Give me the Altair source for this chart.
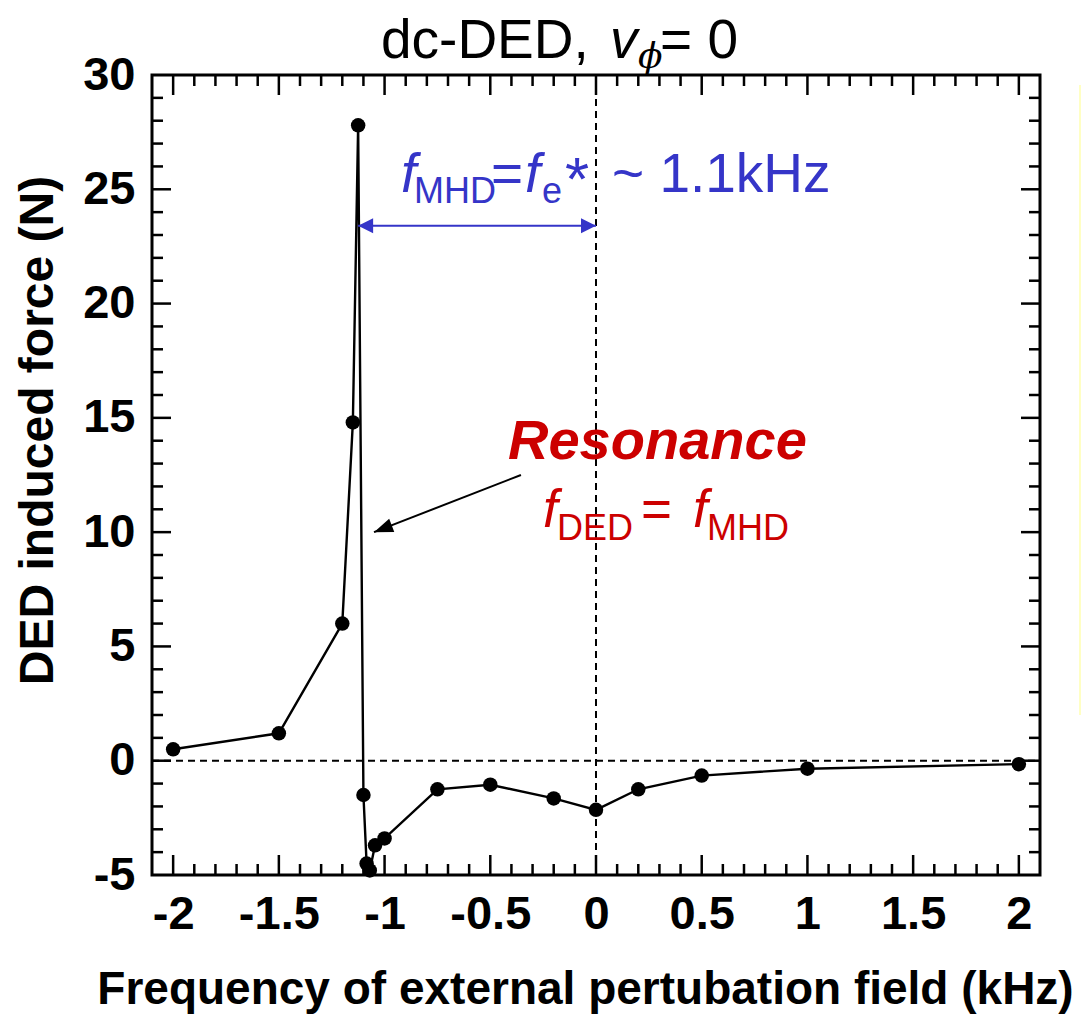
import altair as alt
import numpy as np
import pandas as pd

# DED induced force (N) against the frequency of the external perturbation field (kHz)
freq_khz = [-2.0, -1.5, -1.2, -1.15, -1.125, -1.1, -1.085, -1.07, -1.045, -1.0,
            -0.75, -0.5, -0.2, 0.0, 0.2, 0.5, 1.0, 2.0]
force_n = [0.5, 1.2, 6.0, 14.8, 27.8, -1.5, -4.5, -4.8, -3.7, -3.4,
           -1.25, -1.05, -1.65, -2.15, -1.25, -0.65, -0.35, -0.15]

x_labels = [-2, -1.5, -1, -0.5, 0, 0.5, 1, 1.5, 2]
y_labels = [-5, 0, 5, 10, 15, 20, 25, 30]

# f_MHD marker span and resonance pointer (data coordinates)
f_mhd = -1.125
span_y = 23.4
pointer_from = (-0.355, 12.5)
pointer_to = (-1.05, 10.0)

W, H = 888, 800
L, T = 152, 75
X_DOM = [-2.1, 2.1]
Y_DOM = [-5, 30]

BLUE = "#3535c8"
RED = "#cc0000"
SANS = "Liberation Sans"

xs = alt.Scale(domain=X_DOM, nice=False, zero=False)
ys = alt.Scale(domain=Y_DOM, nice=False, zero=False)

df = pd.DataFrame({"f": freq_khz, "F": force_n, "i": range(len(freq_khz))})

x_enc = alt.X(
    "f:Q", scale=xs,
    axis=alt.Axis(
        values=x_labels, labelExpr="datum.value + ''", grid=False, ticks=False,
        domain=False, labelFont=SANS, labelFontWeight="bold", labelFontSize=47,
        labelColor="black", labelBaseline="alphabetic", labelPadding=53,
        labelFlush=False, labelOverlap=False,
        title="Frequency of external pertubation field (kHz)",
        titleFont=SANS, titleFontWeight="bold",
        titleFontSize=46, titleColor="black", titleX=433, titleY=128,
        titleAlign="center", titleBaseline="alphabetic",
    ),
)
y_enc = alt.Y(
    "F:Q", scale=ys,
    axis=alt.Axis(
        values=y_labels, labelExpr="datum.value + ''", grid=False, ticks=False,
        domain=False, labelFont=SANS, labelFontWeight="bold", labelFontSize=47,
        labelColor="black", labelBaseline="middle", labelPadding=17,
        labelFlush=False, labelOverlap=False,
        title="DED induced force (N)", titleFont=SANS, titleFontWeight="bold",
        titleFontSize=48, titleColor="black", titleX=-100, titleY=355,
        titleAngle=270, titleAlign="center", titleBaseline="alphabetic",
    ),
)

line = alt.Chart(df).mark_line(color="black", strokeWidth=2.4).encode(
    x=x_enc, y=y_enc, order="i:Q")
dots = alt.Chart(df).mark_circle(size=210, color="black", opacity=1).encode(
    x=alt.X("f:Q", scale=xs), y=alt.Y("F:Q", scale=ys))

one = pd.DataFrame({"v": [0]})
zero_h = alt.Chart(one).mark_rule(color="black", strokeWidth=2, strokeDash=[7, 5]).encode(
    y=alt.Y("v:Q", scale=ys), x=alt.value(0), x2=alt.value(W))
zero_v = alt.Chart(one).mark_rule(color="black", strokeWidth=2, strokeDash=[7, 5]).encode(
    x=alt.X("v:Q", scale=xs), y=alt.value(0), y2=alt.value(H))

# Plot frame
frame = alt.Chart(one).mark_rect(fillOpacity=0, stroke="black", strokeWidth=3).encode(
    x=alt.value(0), x2=alt.value(W), y=alt.value(0), y2=alt.value(H))


# Inward-pointing ticks on all four sides of the frame
def x_ticks(vals, length):
    d = pd.DataFrame({"t": vals})
    bottom = alt.Chart(d).mark_rule(color="black", strokeWidth=2.5).encode(
        x=alt.X("t:Q", scale=xs), y=alt.value(H), y2=alt.value(H - length))
    top = alt.Chart(d).mark_rule(color="black", strokeWidth=2.5).encode(
        x=alt.X("t:Q", scale=xs), y=alt.value(0), y2=alt.value(length))
    return [bottom, top]


def y_ticks(vals, length):
    d = pd.DataFrame({"t": vals})
    left = alt.Chart(d).mark_rule(color="black", strokeWidth=2.5).encode(
        y=alt.Y("t:Q", scale=ys), x=alt.value(0), x2=alt.value(length))
    right = alt.Chart(d).mark_rule(color="black", strokeWidth=2.5).encode(
        y=alt.Y("t:Q", scale=ys), x=alt.value(W), x2=alt.value(W - length))
    return [left, right]


x_minor_vals = [v for v in np.round(np.arange(-2.0, 2.001, 0.1), 2) if abs(v * 2 - round(v * 2)) > 1e-6]
x_major_vals = [v for v in x_labels]
y_minor_vals = [v for v in range(-4, 30) if v % 5 != 0]
y_major_vals = [v for v in y_labels if Y_DOM[0] < v < Y_DOM[1]]

tick_layers = (x_ticks(x_minor_vals, 11) + x_ticks(x_major_vals, 20)
               + y_ticks(y_minor_vals, 11) + y_ticks(y_major_vals, 19))

# f_MHD span: double-headed blue arrow from the resonance to zero frequency
span = pd.DataFrame({"a": [f_mhd], "b": [0.0], "y": [span_y]})
span_rule = alt.Chart(span).mark_rule(color=BLUE, strokeWidth=2).encode(
    x=alt.X("a:Q", scale=xs), x2="b:Q", y=alt.Y("y:Q", scale=ys))
head_left = alt.Chart(span).mark_point(
    shape="M0,0L2,-1L2,1Z", size=225, filled=True, color=BLUE, opacity=1, strokeWidth=0
).encode(x=alt.X("a:Q", scale=xs), y=alt.Y("y:Q", scale=ys))
head_right = alt.Chart(span).mark_point(
    shape="M0,0L-2,-1L-2,1Z", size=225, filled=True, color=BLUE, opacity=1, strokeWidth=0
).encode(x=alt.X("b:Q", scale=xs), y=alt.Y("y:Q", scale=ys))

# Resonance pointer
ptr = pd.DataFrame({"x1": [pointer_from[0]], "y1": [pointer_from[1]],
                    "x2": [pointer_to[0]], "y2": [pointer_to[1]]})
ptr_rule = alt.Chart(ptr).mark_rule(color="black", strokeWidth=2).encode(
    x=alt.X("x1:Q", scale=xs), y=alt.Y("y1:Q", scale=ys), x2="x2:Q", y2="y2:Q")
ptr_head = alt.Chart(ptr).mark_point(
    shape="M0,0L2,-0.75L2,0.75Z", size=361, filled=True, color="black", opacity=1,
    strokeWidth=0, angle=339
).encode(x=alt.X("x2:Q", scale=xs), y=alt.Y("y2:Q", scale=ys))


def txt(s, x, y, size, color="black", style="normal", weight="normal", font=SANS):
    return alt.Chart(pd.DataFrame({"t": [s]})).mark_text(
        align="left", baseline="alphabetic", font=font, fontSize=size,
        fontStyle=style, fontWeight=weight, color=color
    ).encode(x=alt.value(x - L), y=alt.value(y - T), text="t:N")


texts = [
    # title: dc-DED, v_phi = 0
    txt("dc-DED,", 381, 58, 55),
    txt("v", 610, 58, 55, style="italic"),
    txt("\u03d5", 638, 68, 36, style="italic", font="DejaVu Serif"),
    txt("= 0", 660, 58, 55),
    # f_MHD = f_e* ~ 1.1kHz
    txt("f", 401, 192, 55, BLUE, style="italic"),
    txt("MHD", 414, 203, 36, BLUE),
    txt("=", 491, 192, 55, BLUE),
    txt("f", 525, 192, 55, BLUE, style="italic"),
    txt("e", 542, 203, 36, BLUE),
    txt("*", 565, 200, 62, BLUE),
    txt("~ 1.1kHz", 612, 192, 55, BLUE),
    # Resonance: f_DED = f_MHD
    txt("Resonance", 508, 459, 56, RED, style="italic", weight="bold"),
    txt("f", 543, 527, 53, RED, style="italic"),
    txt("DED", 557, 540, 36, RED),
    txt("=", 641, 527, 53, RED),
    txt("f", 693, 527, 53, RED, style="italic"),
    txt("MHD", 707, 540, 36, RED),
]

edge = alt.Chart(one).mark_rule(color="#ffffc4", strokeWidth=2).encode(
    x=alt.value(1080 - L), y=alt.value(85 - T), y2=alt.value(715 - T))

chart = alt.layer(
    zero_h, zero_v, *tick_layers, frame, line, dots,
    span_rule, head_left, head_right, ptr_rule, ptr_head, edge, *texts
).properties(
    width=W, height=H,
    padding={"left": L, "top": T, "right": 1082 - L - W, "bottom": 1015 - T - H},
    autosize=alt.AutoSizeParams(type="none"),
).configure(background="white").configure_view(stroke=None)

chart.save("out.html", embed_options={"renderer": "svg", "actions": False})
